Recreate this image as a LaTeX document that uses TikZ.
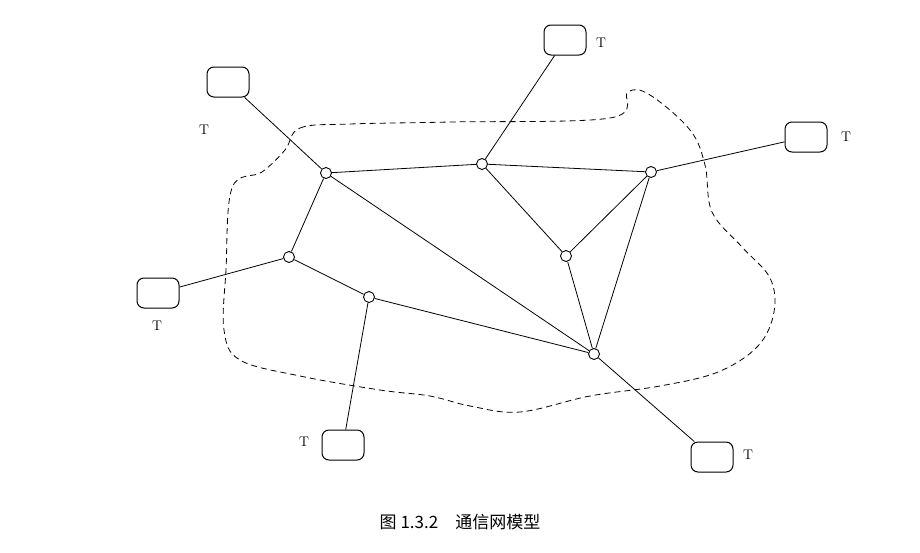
\documentclass[tikz,border=0pt]{standalone}
\usepackage{fontspec}
\newfontfamily\cjk{Noto Sans CJK SC}
\usetikzlibrary{positioning}

\begin{document}
\begin{tikzpicture}[x=1pt, y=-1pt,
    sw/.style={circle, draw, line width=0.9pt, fill=white, inner sep=0pt, minimum size=11pt},
    term/.style={rectangle, draw, line width=1pt, rounded corners=7pt, minimum width=42pt, minimum height=30pt},
    tlabel/.style={font=\fontsize{14}{16}\selectfont},
    link/.style={draw, line width=0.8pt}]

    \useasboundingbox (0,0) rectangle (920,552);

    % Boundary of the network
    \draw[dashed, line width=0.8pt, dash pattern=on 6pt off 4pt] plot[smooth cycle, tension=0.6] coordinates {
        (285,150) (300,128) (350,124) (450,122) (610,118) (628,92) (650,95)
        (690,130) (705,165) (712,212) (742,247) (770,278) (774,312) (758,346)
        (718,372) (660,386) (590,396) (520,412) (470,406) (430,396) (380,390)
        (300,376) (240,360) (224,330) (226,270) (232,188) (262,172)};

    % Terminals
    \node[term] (t1) at (228,82) {};
    \node[term] (t2) at (565,40) {};
    \node[term] (t3) at (806,137) {};
    \node[term] (t4) at (158,293) {};
    \node[term] (t5) at (343,445) {};
    \node[term] (t6) at (712,457) {};
    \node[tlabel] at (204,130) {T};
    \node[tlabel] at (601,43) {T};
    \node[tlabel] at (846,137) {T};
    \node[tlabel] at (157,326) {T};
    \node[tlabel] at (304,442) {T};
    \node[tlabel] at (748,455) {T};

    % Switching nodes
    \node[sw] (a) at (326,173) {};
    \node[sw] (b) at (482,164) {};
    \node[sw] (c) at (651,172) {};
    \node[sw] (d) at (289,257) {};
    \node[sw] (e) at (369,297) {};
    \node[sw] (f) at (566,256) {};
    \node[sw] (g) at (594,354) {};

    % Links
    \draw[link] (t1) -- (a);
    \draw[link] (t2) -- (b);
    \draw[link] (t3) -- (c);
    \draw[link] (t4) -- (d);
    \draw[link] (t5) -- (e);
    \draw[link] (t6) -- (g);
    \draw[link] (a) -- (b);
    \draw[link] (b) -- (c);
    \draw[link] (a) -- (d);
    \draw[link] (d) -- (e);
    \draw[link] (a) -- (g);
    \draw[link] (e) -- (g);
    \draw[link] (b) -- (f);
    \draw[link] (c) -- (f);
    \draw[link] (f) -- (g);
    \draw[link] (c) -- (g);

    % Caption
    \node[font=\cjk\fontsize{17}{20}\selectfont] (cap) at (460,522) {图 1.3.2\quad 通信网模型};

\end{tikzpicture}
\end{document}
